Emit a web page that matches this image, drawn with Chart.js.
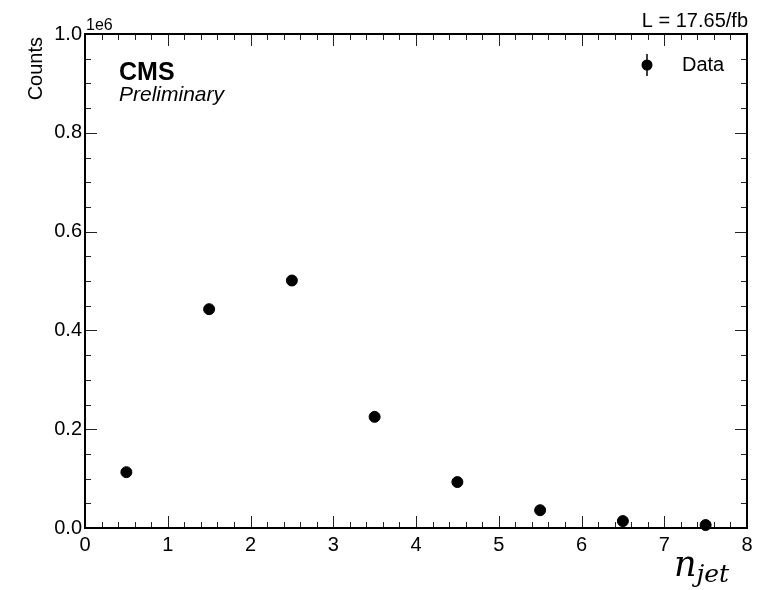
<!DOCTYPE html>
<html>
<head>
<meta charset="utf-8">
<script src="https://cdn.jsdelivr.net/npm/chart.js@4.4.1/dist/chart.umd.min.js"></script>
<style>
  body { margin: 0; background: #fff; }
  #wrap { width: 758px; height: 590px; }
</style>
</head>
<body>
<div id="wrap"><canvas id="njetChart" width="758" height="590"></canvas></div>
<script>
// bin centres and counts
var binCentres = [0.5, 1.5, 2.5, 3.5, 4.5, 5.5, 6.5, 7.5];
var counts = [113000, 443000, 501000, 225000, 93000, 36000, 14000, 6000];
var seriesLabel = 'Data';
var lumiText = 'L = 17.65/fb';

var font = '"Liberation Sans", Arial, Helvetica, sans-serif';

var points = binCentres.map(function(x, i) { return { x: x, y: counts[i] }; });

// draws inward ticks on all four sides + frame + labels
var hepStyle = {
    id: 'hepStyle',
    afterDraw: function(chart) {
        var ctx = chart.ctx;
        var a = chart.chartArea;
        var xs = chart.scales.x, ys = chart.scales.y;
        ctx.save();

        // ticks
        ctx.strokeStyle = '#222';
        ctx.lineWidth = 1;
        var i, v, p, len;
        for (i = 0; i <= 40; i++) {
            v = i * 0.2;
            p = Math.round(xs.getPixelForValue(v)) + 0.5;
            len = (i % 5 === 0) ? 12 : 6;
            ctx.beginPath();
            ctx.moveTo(p, a.bottom); ctx.lineTo(p, a.bottom - len);
            ctx.moveTo(p, a.top); ctx.lineTo(p, a.top + len);
            ctx.stroke();
        }
        for (i = 0; i <= 20; i++) {
            v = i * 50000;
            p = Math.round(ys.getPixelForValue(v)) + 0.5;
            len = (i % 4 === 0) ? 12 : 6;
            ctx.beginPath();
            ctx.moveTo(a.left, p); ctx.lineTo(a.left + len, p);
            ctx.moveTo(a.right, p); ctx.lineTo(a.right - len, p);
            ctx.stroke();
        }

        // frame
        ctx.strokeStyle = '#000';
        ctx.lineWidth = 2;
        ctx.strokeRect(a.left, a.top, a.right - a.left, a.bottom - a.top);

        ctx.fillStyle = '#000';
        // axis multiplier
        ctx.font = '16px ' + font;
        ctx.textAlign = 'left';
        ctx.textBaseline = 'alphabetic';
        ctx.fillText('1e6', a.left + 1, a.top - 4);

        // lumi
        ctx.font = '20px ' + font;
        ctx.textAlign = 'right';
        ctx.fillText(lumiText, a.right + 1, 27);

        // y title
        ctx.save();
        ctx.translate(42, a.top + 3);
        ctx.rotate(-Math.PI / 2);
        ctx.textAlign = 'right';
        ctx.font = '20px ' + font;
        ctx.fillText('Counts', 0, 0);
        ctx.restore();

        // CMS label
        ctx.textAlign = 'left';
        ctx.font = 'bold 25px ' + font;
        ctx.fillText('CMS', 119, 80);
        ctx.font = 'italic 21px ' + font;
        ctx.fillText('Preliminary', 119, 101);

        // legend
        var lx = 647, ly = 65;
        ctx.strokeStyle = '#000';
        ctx.lineWidth = 1.5;
        ctx.beginPath();
        ctx.moveTo(lx, ly - 11); ctx.lineTo(lx, ly + 11);
        ctx.stroke();
        ctx.beginPath();
        ctx.arc(lx, ly, 5.5, 0, Math.PI * 2);
        ctx.fill();
        ctx.font = '20px ' + font;
        ctx.textBaseline = 'middle';
        ctx.fillText(seriesLabel, 682, ly);

        // x title n_jet
        ctx.textBaseline = 'alphabetic';
        ctx.font = 'italic 35px "DejaVu Serif", "Liberation Serif", serif';
        ctx.fillText('n', 674, 576);
        var nw = ctx.measureText('n').width;
        ctx.font = 'italic 25px "DejaVu Serif", "Liberation Serif", serif';
        ctx.fillText('jet', 674 + nw, 582);

        ctx.restore();
    }
};

new Chart(document.getElementById('njetChart'), {
    type: 'scatter',
    data: {
        datasets: [{
            label: seriesLabel,
            data: points,
            backgroundColor: '#000',
            borderColor: '#000',
            pointRadius: 5.5,
            pointHoverRadius: 5.5,
            clip: false
        }]
    },
    options: {
        responsive: false,
        animation: false,
        layout: { padding: { top: 34, right: 11, left: 0, bottom: 0 } },
        plugins: {
            legend: { display: false },
            tooltip: { enabled: false }
        },
        scales: {
            x: {
                type: 'linear',
                min: 0,
                max: 8,
                grid: { display: false, drawTicks: false },
                border: { display: false },
                ticks: {
                    stepSize: 1,
                    padding: 5,
                    color: '#000',
                    font: { family: font, size: 20 }
                },
                afterFit: function(scale) { scale.height = 62; }
            },
            y: {
                type: 'linear',
                min: 0,
                max: 1000000,
                grid: { display: false, drawTicks: false },
                border: { display: false },
                ticks: {
                    stepSize: 200000,
                    padding: 3,
                    color: '#000',
                    font: { family: font, size: 20 },
                    callback: function(v) { return (v / 1e6).toFixed(1); }
                },
                afterFit: function(scale) { scale.width = 85; }
            }
        }
    },
    plugins: [hepStyle]
});
</script>
</body>
</html>
